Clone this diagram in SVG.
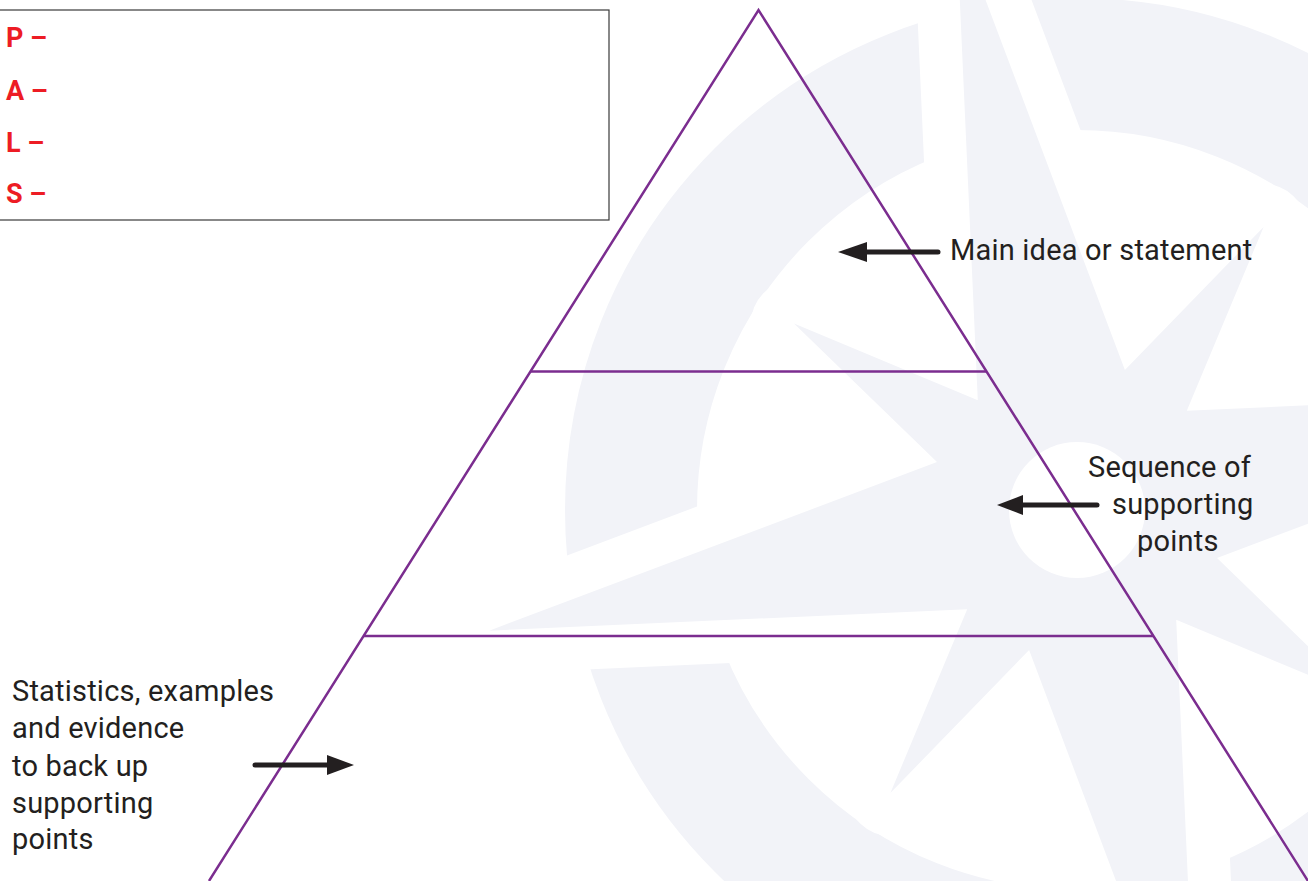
<svg xmlns="http://www.w3.org/2000/svg" width="1308" height="881" viewBox="0 0 1308 881">
  <style>
    .wm { fill: #f2f3f8; }
    .tier { fill: none; stroke: #7b2d8f; stroke-width: 2.5; }
    .lbl { font-family: Roboto, "Liberation Sans", sans-serif; font-size: 29px; letter-spacing: 0.2px; fill: #231f20; }
    .key { font-family: Roboto, "Liberation Sans", sans-serif; font-size: 27px; font-weight: bold; fill: #ed1c24; }
    .shaft { stroke: #231f20; stroke-width: 5; stroke-linecap: round; fill: none; }
    .head { fill: #231f20; }
  </style>
  <rect x="0" y="0" width="1308" height="881" fill="#ffffff"/>

  <!-- compass watermark -->
  <g id="watermark">
    <circle cx="1077" cy="510" r="446" fill="none" stroke="#f2f3f8" stroke-width="132"/>
    <polygon points="956.3,-77.8 1124.9,370 1263.6,227 1186.8,410.8 1664.8,389.3 1217,557.9 1360,696.6 1176.2,619.8 1197.7,1097.8 1029.1,650 890.4,793 967.2,609.2 489.2,630.7 937,462.1 794,323.4 977.8,400.2" fill="#ffffff" stroke="#ffffff" stroke-width="86" stroke-linejoin="round"/>
    <polygon class="wm" points="956.3,-77.8 1124.9,370 1263.6,227 1186.8,410.8 1664.8,389.3 1217,557.9 1360,696.6 1176.2,619.8 1197.7,1097.8 1029.1,650 890.4,793 967.2,609.2 489.2,630.7 937,462.1 794,323.4 977.8,400.2"/>
    <circle cx="1077" cy="510" r="68" fill="#ffffff"/>
  </g>

  <g id="legend">
    <rect x="-1" y="10" width="610" height="210" fill="none" stroke="#3a3a3a" stroke-width="1.2"/>
    <text class="key" x="6" y="47">P –</text>
    <text class="key" x="6" y="100">A –</text>
    <text class="key" x="6" y="152">L –</text>
    <text class="key" x="6" y="203">S –</text>
  </g>

  <g id="pyramid">
    <polyline class="tier" points="209,881 758.5,10 1308,881"/>
    <line class="tier" x1="530.5" y1="371.5" x2="986.5" y2="371.5"/>
    <line class="tier" x1="363.5" y1="636" x2="1153.5" y2="636"/>
  </g>

  <g id="label-top">
    <text class="lbl" x="950" y="260">Main idea or statement</text>
  </g>
  <g id="label-middle">
    <text class="lbl" x="1088" y="477">Sequence of</text>
    <text class="lbl" x="1112" y="514">supporting</text>
    <text class="lbl" x="1137" y="551">points</text>
  </g>
  <g id="label-bottom">
    <text class="lbl" x="12" y="701">Statistics, examples</text>
    <text class="lbl" x="12" y="738">and evidence</text>
    <text class="lbl" x="12" y="776">to back up</text>
    <text class="lbl" x="12" y="813">supporting</text>
    <text class="lbl" x="12" y="849">points</text>
  </g>

  <g id="connectors">
    <line class="shaft" x1="938" y1="252" x2="862" y2="252"/>
    <polygon class="head" points="838,252 867,242 867,262"/>
    <line class="shaft" x1="1097" y1="505" x2="1018" y2="505"/>
    <polygon class="head" points="997,505 1023,495 1023,515"/>
    <line class="shaft" x1="255" y1="765" x2="332" y2="765"/>
    <polygon class="head" points="354,765 327,755 327,775"/>
  </g>
</svg>
